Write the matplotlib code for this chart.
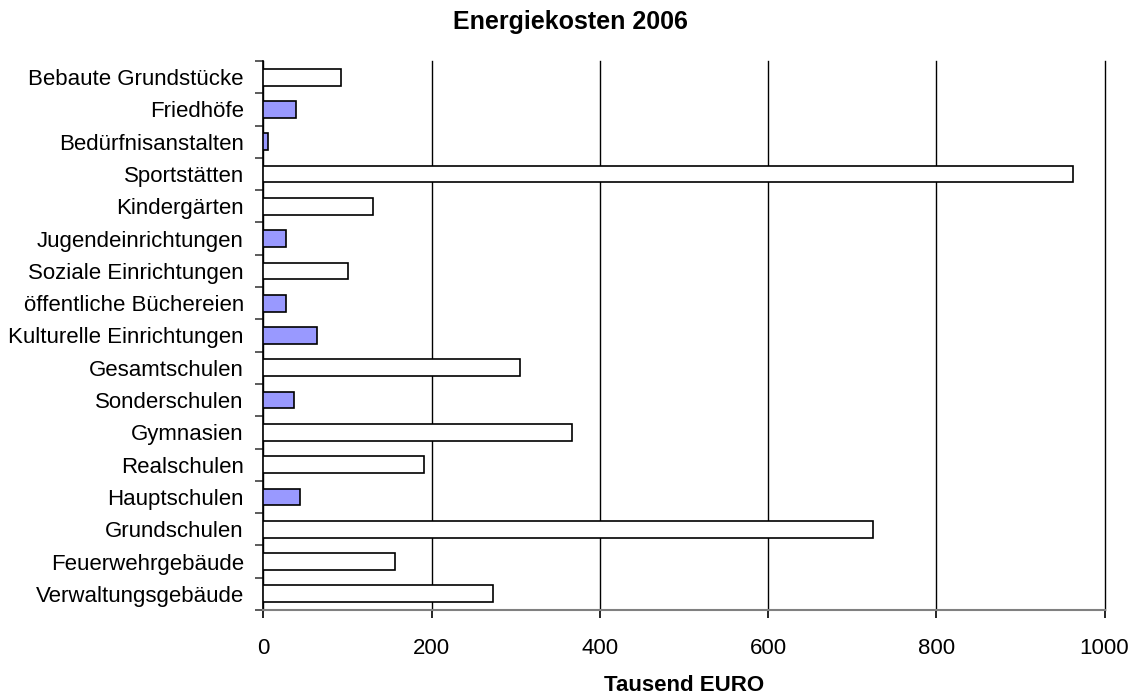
import matplotlib
matplotlib.use("Agg")
import matplotlib.pyplot as plt
import numpy as np

categories = ["Verwaltungsgebäude", "Feuerwehrgebäude", "Grundschulen", "Hauptschulen",
              "Realschulen", "Gymnasien", "Sonderschulen", "Gesamtschulen",
              "Kulturelle Einrichtungen", "öffentliche Büchereien", "Soziale Einrichtungen",
              "Jugendeinrichtungen", "Kindergärten", "Sportstätten", "Bedürfnisanstalten",
              "Friedhöfe", "Bebaute Grundstücke"]
values = [273, 157, 725, 44, 191, 367, 37, 305, 64, 27, 101, 27, 131, 962, 6, 39, 92]
highlight = [False, False, False, True, False, False, True, False, True, True, False,
             True, False, False, True, True, False]
xticks = [0, 200, 400, 600, 800, 1000]

plt.rcParams['font.family'] = ['Liberation Sans', 'DejaVu Sans']
fig = plt.figure(figsize=(11.41, 6.95), dpi=100)
ax = fig.add_axes([263.3/1141, 1-610/695, (1104.5-263.3)/1141, (610-61)/695])

y = np.arange(len(categories))
colors = ["#9999FF" if h else "white" for h in highlight]
ax.barh(y, values, height=0.52, color=colors, edgecolor="black", linewidth=1.2, zorder=3)

ax.set_xlim(0, 1000)
ax.set_ylim(-0.5, len(categories) - 0.5)
ax.set_xticks(xticks)
ax.set_xticklabels([str(t) for t in xticks], fontsize=16)
ax.set_yticks(y)
ax.set_yticklabels(categories, fontsize=16)
ax.tick_params(axis='y', which='major', length=0, pad=14)
ax.set_yticks(np.arange(-0.5, len(categories), 1.0), minor=True)
ax.tick_params(axis='y', which='minor', length=6, width=1.2, color="#404040")
ax.tick_params(axis='x', which='major', length=6, width=1.2, color="black", pad=14)

for s in ["top", "right"]:
    ax.spines[s].set_visible(False)
ax.spines["left"].set_color("black")
ax.spines["left"].set_linewidth(1.2)
ax.spines["bottom"].set_color("#808080")
ax.spines["bottom"].set_linewidth(1.5)

ax.grid(axis='x', color="black", linewidth=1.0, zorder=0)
for gl in ax.get_xgridlines():
    gl.set_clip_on(False)
ax.set_axisbelow(True)

fig.text(0.5, 1 - 22/695, "Energiekosten 2006", fontsize=18, fontweight="bold",
         ha="center", va="center")
ax.set_xlabel("Tausend EURO", fontsize=16, fontweight="bold", labelpad=12)

fig.savefig("out.png", dpi=100)
